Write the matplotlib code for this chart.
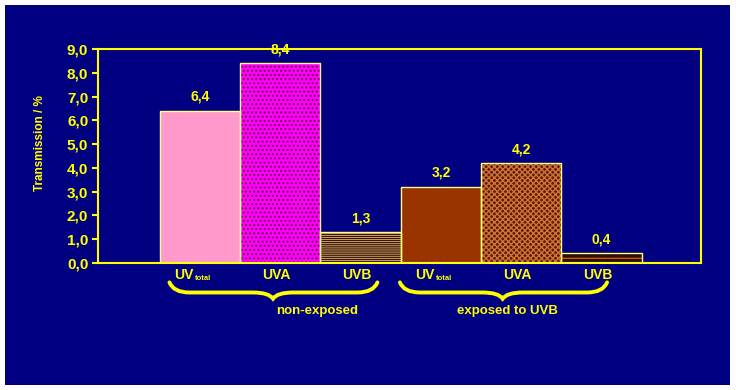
import numpy as np
import matplotlib
matplotlib.use("Agg")
import matplotlib.pyplot as plt
from matplotlib.path import Path
from matplotlib.patches import PathPatch, Rectangle
from matplotlib.transforms import blended_transform_factory

# data
categories = ["UV", "UVA", "UVB", "UV", "UVA", "UVB"]
subscripts = ["total", "", "", "total", "", ""]
values = [6.4, 8.4, 1.3, 3.2, 4.2, 0.4]
value_labels = ["6,4", "8,4", "1,3", "3,2", "4,2", "0,4"]
groups = ["non-exposed", "exposed to UVB"]
y_ticks = [0, 1, 2, 3, 4, 5, 6, 7, 8, 9]
y_tick_labels = ["0,0", "1,0", "2,0", "3,0", "4,0", "5,0", "6,0", "7,0", "8,0", "9,0"]

NAVY = "#000080"
YEL = "#ffff00"
EDGE = "#ffff80"

face = ["#ff99cc", "#ff00ff", "#ffcc99", "#993300", "#5c1a00", "#2a0e00"]
hatch = [None, "....", "--------", None, "xxxxxx", "---"]
hatch_col = ["#ff99cc", "#700050", "#3a1800", "#993300", "#d0733a", "#cc5500"]

plt.rcParams["font.family"] = ["Liberation Sans Narrow", "Liberation Sans", "DejaVu Sans"]
plt.rcParams["font.weight"] = "bold"
plt.rcParams["hatch.linewidth"] = 1.0

fig = plt.figure(figsize=(7.36, 3.90), dpi=100, facecolor="white")
fig.patches.append(Rectangle((5 / 736, 5 / 390), 725 / 736, 380 / 390,
                             transform=fig.transFigure, facecolor=NAVY,
                             edgecolor="none", zorder=-10))
ax = fig.add_axes([98 / 736, 127 / 390, 603 / 736, 214 / 390])
ax.set_facecolor(NAVY)

x = np.arange(len(values))
for i in range(len(values)):
    ax.bar(x[i] + 0.5, values[i], width=1.0, color=face[i], hatch=hatch[i],
           edgecolor=hatch_col[i], linewidth=0, zorder=2)
ax.bar(x + 0.5, values, width=1.0, color="none", edgecolor=EDGE, linewidth=1.0, zorder=3)

for xi, v, lab in zip(x, values, value_labels):
    ax.annotate(lab, (xi + 0.5, v), xytext=(0, 5), textcoords="offset points",
                ha="center", va="bottom", color=YEL, fontsize=10, fontweight="bold")

ax.set_xlim(-0.77, 6.74)
ax.set_ylim(0, 9)
ax.set_yticks(y_ticks)
ax.set_yticklabels(y_tick_labels)
ax.set_xticks([])
ax.tick_params(axis="y", colors=YEL, labelsize=11, length=4, width=1.5, pad=3)
for s in ax.spines.values():
    s.set_color(YEL)
    s.set_linewidth(1.5)

# category labels, with a tiny subscript where needed
xl = blended_transform_factory(ax.transData, fig.transFigure)
for xi, cat, sub in zip(x, categories, subscripts):
    if sub:
        ax.text(xi + 0.42, (390 - 275) / 390, cat, transform=xl, ha="right", va="center",
                color=YEL, fontsize=10, fontweight="bold")
        ax.text(xi + 0.44, (390 - 278) / 390, sub, transform=xl, ha="left", va="center",
                color=YEL, fontsize=5.5, fontweight="bold")
    else:
        ax.text(xi + 0.45, (390 - 275) / 390, cat, transform=xl, ha="center", va="center",
                color=YEL, fontsize=10, fontweight="bold")

fig.text(40 / 736, (390 - 143) / 390, "Transmission / %", rotation=90,
         ha="center", va="center", color=YEL, fontsize=8.5, fontweight="bold")

# curly braces under the groups
y_top, y_mid, y_bot = 0.276, 0.250, 0.234
braces = [(0.12, 1.41, 2.71), (2.99, 4.27, 5.57)]
for (x0, xt, x1), g in zip(braces, groups):
    d = 0.25
    verts = [(x0, y_top), (x0 + 0.05, y_mid), (x0 + d, y_mid),
             (xt - d, y_mid), (xt - 0.05, y_mid), (xt, y_bot),
             (xt + 0.05, y_mid), (xt + d, y_mid),
             (x1 - d, y_mid), (x1 - 0.05, y_mid), (x1, y_top)]
    codes = [Path.MOVETO, Path.CURVE3, Path.CURVE3, Path.LINETO,
             Path.CURVE3, Path.CURVE3, Path.CURVE3, Path.CURVE3,
             Path.LINETO, Path.CURVE3, Path.CURVE3]
    fig.patches.append(PathPatch(Path(verts, codes), transform=xl, facecolor="none",
                                 edgecolor=YEL, linewidth=2.8, capstyle="round"))

fig.text(317 / 736, (390 - 311) / 390, groups[0], ha="center", va="center",
         color=YEL, fontsize=9.5, fontweight="bold")
fig.text(507 / 736, (390 - 311) / 390, groups[1], ha="center", va="center",
         color=YEL, fontsize=9.5, fontweight="bold")

fig.savefig("out.png", dpi=100, facecolor="white")
